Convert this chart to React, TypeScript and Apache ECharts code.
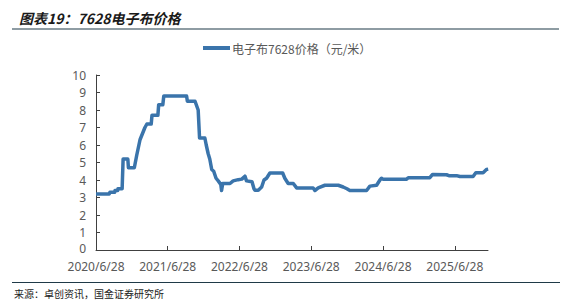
import React, { useEffect, useRef } from "react";
import * as echarts from "echarts";

const seriesName = "电子布7628价格（元/米）";

const dates: string[] = [
  "2020-06-28", "2020-09-03", "2020-09-07", "2020-10-01", "2020-10-03", "2020-10-16",
  "2020-10-18", "2020-11-08", "2020-11-13", "2020-12-07", "2020-12-10", "2021-01-09",
  "2021-01-21", "2021-02-07", "2021-03-04", "2021-03-14", "2021-04-05", "2021-04-09",
  "2021-05-09", "2021-05-13", "2021-06-03", "2021-06-08", "2021-10-02", "2021-10-06",
  "2021-11-14", "2021-11-30", "2021-12-07", "2022-01-03", "2022-01-10", "2022-01-20",
  "2022-01-28", "2022-02-07", "2022-02-17", "2022-03-01", "2022-03-12", "2022-03-25",
  "2022-03-29", "2022-04-04", "2022-05-11", "2022-05-27", "2022-06-22", "2022-07-10",
  "2022-07-26", "2022-08-03", "2022-08-31", "2022-09-10", "2022-09-15", "2022-10-02",
  "2022-10-19", "2022-10-31", "2022-11-13", "2022-11-30", "2023-02-03", "2023-02-14",
  "2023-03-03", "2023-03-29", "2023-04-15", "2023-07-08", "2023-07-17", "2023-08-03",
  "2023-09-06", "2023-11-13", "2023-12-08", "2023-12-27", "2024-01-11", "2024-04-05",
  "2024-04-22", "2024-05-26", "2024-06-12", "2024-06-20", "2024-06-27", "2024-10-26",
  "2024-11-03", "2025-02-21", "2025-03-07", "2025-05-17", "2025-05-29", "2025-07-07",
  "2025-07-24", "2025-09-29", "2025-10-13", "2025-11-19", "2025-12-06", "2025-12-15",
];

const prices: number[] = [
  3.2, 3.2, 3.3, 3.3, 3.4, 3.4,
  3.5, 3.5, 5.2, 5.2, 4.7, 4.7,
  5.4, 6.3, 7.0, 7.2, 7.2, 7.7,
  7.7, 8.3, 8.3, 8.8, 8.8, 8.5,
  8.5, 8.0, 6.4, 6.4, 6.0, 5.5,
  5.2, 4.6, 4.5, 4.1, 3.95, 3.75,
  3.4, 3.8, 3.8, 3.95, 4.02, 4.05,
  4.22, 3.95, 3.9, 3.5, 3.42, 3.42,
  3.6, 4.0, 4.1, 4.4, 4.4, 4.1,
  3.8, 3.8, 3.55, 3.55, 3.4, 3.55,
  3.7, 3.7, 3.6, 3.5, 3.4, 3.4,
  3.65, 3.7, 4.0, 4.1, 4.05, 4.05,
  4.13, 4.13, 4.32, 4.3, 4.25, 4.25,
  4.2, 4.2, 4.42, 4.42, 4.6, 4.62,
];

const tickDates: string[] = [
  "2020-06-28", "2021-06-28", "2022-06-28", "2023-06-28", "2024-06-28", "2025-06-28",
];
const tickLabels: string[] = [
  "2020/6/28", "2021/6/28", "2022/6/28", "2023/6/28", "2024/6/28", "2025/6/28",
];

const axisMin = "2020-06-28";
const axisMax = "2025-12-14";

const toTs = (d: string) => Date.parse(d + "T00:00:00Z");

export default function App() {
  const ref = useRef<HTMLDivElement>(null);
  useEffect(() => {
    if (!ref.current) return;
    const chart = echarts.init(ref.current, undefined, { renderer: "svg" });
    const tickTs = tickDates.map(toTs);
    const data = dates.map((d, i) => [toTs(d), prices[i]]);
    chart.setOption({
      animation: false,
      backgroundColor: "#ffffff",
      title: {
        text: "图表19：7628电子布价格",
        left: 14,
        top: 6,
        textStyle: {
          fontFamily: "Noto Sans CJK SC",
          fontSize: 14,
          fontWeight: "bold",
          fontStyle: "italic",
          color: "#1a1a1a",
        },
      },
      graphic: [
        {
          type: "line",
          shape: { x1: 12, y1: 29, x2: 559, y2: 29 },
          style: { stroke: "#1f3a48", lineWidth: 1.2 },
        },
        {
          type: "line",
          shape: { x1: 12, y1: 282.5, x2: 560, y2: 282.5 },
          style: { stroke: "#1f3a48", lineWidth: 1.2 },
        },
        {
          type: "text",
          left: 14,
          top: 288,
          style: {
            text: "来源：卓创资讯，国金证券研究所",
            font: "10px 'Noto Sans CJK SC'",
            fill: "#222222",
          },
        },
      ],
      legend: {
        left: 203,
        top: 42,
        padding: 0,
        icon: "rect",
        itemWidth: 27,
        itemHeight: 4,
        itemGap: 10,
        textStyle: {
          fontFamily: "Noto Sans CJK SC",
          fontSize: 12,
          color: "#595959",
          padding: [0, 0, 0, -3],
        },
        data: [seriesName],
      },
      grid: { left: 96, right: 76, top: 75, bottom: 53, containLabel: false },
      xAxis: {
        type: "value",
        min: toTs(axisMin),
        max: toTs(axisMax),
        splitLine: { show: false },
        axisLine: { show: true, lineStyle: { color: "#404040", width: 1 } },
        axisTick: {
          show: true,
          inside: true,
          length: 4,
          customValues: tickTs,
          lineStyle: { color: "#404040" },
        },
        axisLabel: {
          customValues: tickTs,
          margin: 10,
          fontSize: 12,
          lineHeight: 12,
          color: "#595959",
          fontFamily: "Noto Sans",
          formatter: (v: number) => {
            const idx = tickTs.indexOf(v);
            return idx >= 0 ? tickLabels[idx] : "";
          },
        },
      },
      yAxis: {
        type: "value",
        min: 0,
        max: 10,
        interval: 1,
        splitLine: { show: false },
        axisLine: { show: true, lineStyle: { color: "#404040", width: 1 } },
        axisTick: { show: true, inside: true, length: 4, lineStyle: { color: "#404040" } },
        axisLabel: {
          margin: 10,
          fontSize: 12,
          lineHeight: 12,
          color: "#595959",
          fontFamily: "Noto Sans",
          formatter: (v: number) => (v === 0 ? "{z|0}" : String(v)),
          rich: {
            z: {
              fontSize: 12,
              lineHeight: 12,
              color: "#595959",
              fontFamily: "Noto Sans",
              padding: [0, 0, 3, 0],
            },
          },
        },
      },
      series: [
        {
          name: seriesName,
          type: "line",
          data,
          symbol: "none",
          lineStyle: { color: "#3a74ab", width: 3.5, join: "round" },
          itemStyle: { color: "#3a74ab" },
        },
      ],
    });
    return () => chart.dispose();
  }, []);
  return (
    <div
      ref={ref}
      style={{ position: "fixed", left: 0, top: 0, width: 564, height: 303 }}
    />
  );
}
